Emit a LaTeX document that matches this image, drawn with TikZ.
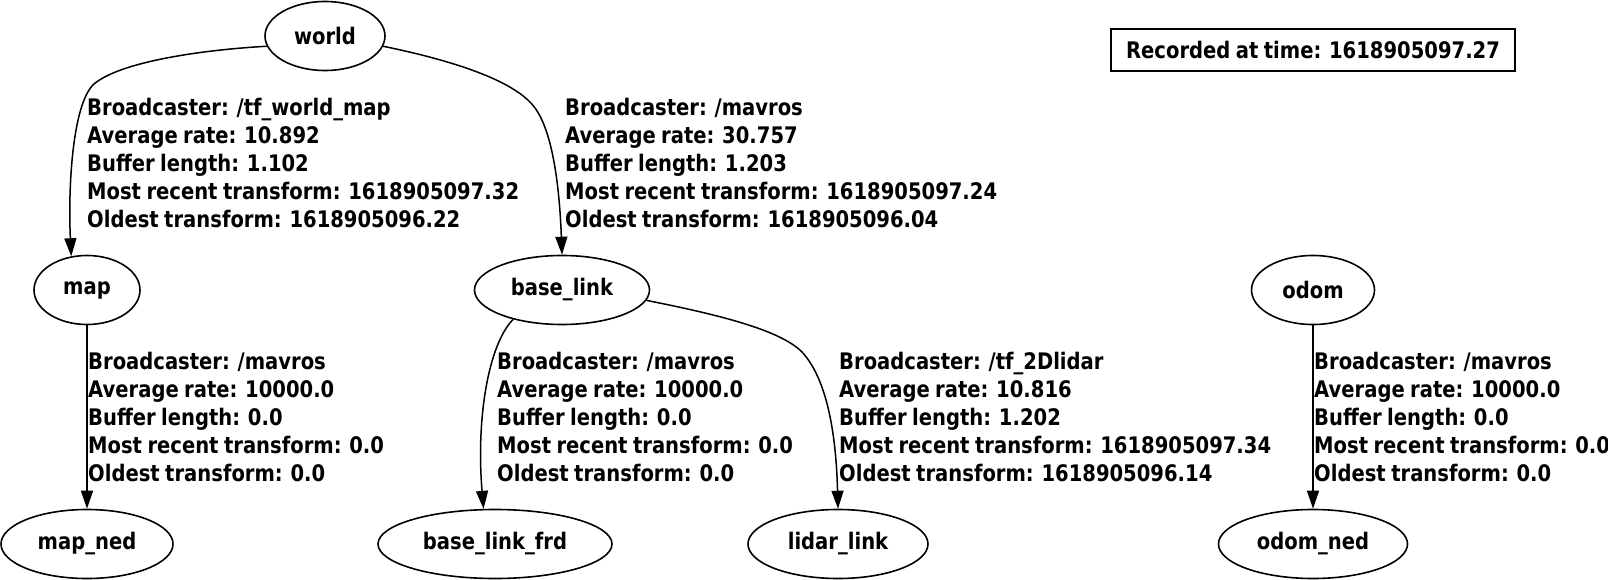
\documentclass[tikz,border=0pt]{standalone}
\usepackage{fontspec}
\setmainfont{DejaVu Sans}[FakeStretch=0.858,WordSpace=0.8]
\usetikzlibrary{shapes.geometric,arrows.meta}
\begin{document}
\begin{tikzpicture}[x=1pt,y=-1pt,
  txt/.style={font=\fontsize{22.8}{27.9}\selectfont\bfseries},
  frame/.style={draw=black,line width=1.6pt,ellipse,inner sep=0pt,minimum height=69pt,txt},
  lbl/.style={txt,anchor=north west,align=left,inner sep=0pt},
  arr/.style={draw=black,line width=1.5pt,-{Triangle[length=18pt,width=12pt]}}]
\useasboundingbox (0,0) rectangle (1608,580);
% nodes
\node[frame,minimum width=120pt] (world) at (325,36) {world};
\node[frame,minimum width=106pt] (map) at (87,290) {map};
\node[frame,minimum width=175pt] (base_link) at (562,290) {base\_link};
\node[frame,minimum width=123pt] (odom) at (1313,290) {odom};
\node[frame,minimum width=172pt] (map_ned) at (87,544) {map\_ned};
\node[frame,minimum width=234pt] (base_link_frd) at (495,544) {base\_link\_frd};
\node[frame,minimum width=180pt] (lidar_link) at (838,544) {lidar\_link};
\node[frame,minimum width=189pt] (odom_ned) at (1313,544) {odom\_ned};
\node[draw=black,line width=1.6pt,minimum width=404pt,minimum height=42pt,inner sep=0pt,txt] (rec) at (1313,50) {Recorded at time: 1618905097.27};
% edges
\draw[arr] (world.190) .. controls (200,50) and (120,62) .. (94,84)
  .. controls (72,104) and (68,190) .. (map.115);
\draw[arr] (world.-10) .. controls (450,60) and (515,80) .. (535,108)
  .. controls (555,135) and (560,200) .. (base_link.north);
\draw[arr] (map) -- (map_ned);
\draw[arr] (base_link.211) .. controls (488,345) and (476,420) .. (base_link_frd.108);
\draw[arr] (base_link.-7) .. controls (720,315) and (780,330) .. (802,352)
  .. controls (826,378) and (836,430) .. (lidar_link.north);
\draw[arr] (odom) -- (odom_ned);
% labels
\node[lbl] (l1) at (87,98) {Broadcaster: /tf\_world\_map\\Average rate: 10.892\\Buffer length: 1.102\\Most recent transform: 1618905097.32\\Oldest transform: 1618905096.22};
\node[lbl] (l2) at (565,98) {Broadcaster: /mavros\\Average rate: 30.757\\Buffer length: 1.203\\Most recent transform: 1618905097.24\\Oldest transform: 1618905096.04};
\node[lbl] (l3) at (88,352) {Broadcaster: /mavros\\Average rate: 10000.0\\Buffer length: 0.0\\Most recent transform: 0.0\\Oldest transform: 0.0};
\node[lbl] (l4) at (497,352) {Broadcaster: /mavros\\Average rate: 10000.0\\Buffer length: 0.0\\Most recent transform: 0.0\\Oldest transform: 0.0};
\node[lbl] (l5) at (839,352) {Broadcaster: /tf\_2Dlidar\\Average rate: 10.816\\Buffer length: 1.202\\Most recent transform: 1618905097.34\\Oldest transform: 1618905096.14};
\node[lbl] (l6) at (1314,352) {Broadcaster: /mavros\\Average rate: 10000.0\\Buffer length: 0.0\\Most recent transform: 0.0\\Oldest transform: 0.0};
\end{tikzpicture}
\end{document}
